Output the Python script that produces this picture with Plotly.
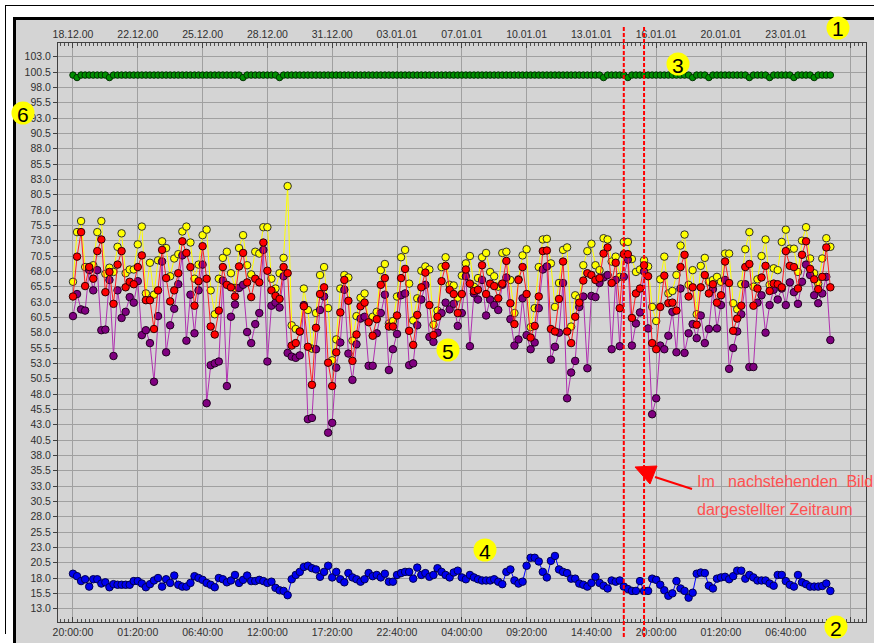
import plotly.graph_objects as go

# ---------------- data ----------------
top_date_labels = ["18.12.00", "22.12.00", "25.12.00", "28.12.00", "31.12.00", "03.01.01",
                   "07.01.01", "10.01.01", "13.01.01", "16.01.01", "20.01.01", "23.01.01"]
bottom_time_labels = ["20:00:00", "01:20:00", "06:40:00", "12:00:00", "17:20:00", "22:40:00",
                      "04:00:00", "09:20:00", "14:40:00", "20:00:00", "01:20:00", "06:40:00"]
samples_per_label = 16
y_tick_values = [13.0, 15.5, 18.0, 20.5, 23.0, 25.5, 28.0, 30.5, 33.0, 35.5, 38.0, 40.5, 43.0,
                 45.5, 48.0, 50.5, 53.0, 55.5, 58.0, 60.5, 63.0, 65.5, 68.0, 70.5, 73.0, 75.5,
                 78.0, 80.5, 83.0, 85.5, 88.0, 90.5, 93.0, 95.5, 98.0, 100.5, 103.0]

yellow_values = [
    66.3, 74.4, 76.2, 68.7, 68.7, 69.0, 74.4, 76.2, 67.6, 68.6,
    67.9, 72.0, 74.2, 67.7, 68.3, 68.3, 72.4, 75.3, 64.4, 69.4,
    64.2, 69.8, 72.9, 71.8, 67.2, 70.1, 70.8, 74.5, 75.3, 72.7,
    66.8, 69.1, 73.9, 74.8, 64.9, 61.0, 66.8, 70.2, 71.2, 67.7,
    65.3, 71.8, 73.9, 69.0, 67.5, 71.2, 70.9, 75.2, 75.2, 66.8,
    65.2, 67.7, 70.2, 81.9, 59.2, 58.6, 58.2, 65.2, 61.7, 55.4,
    61.2, 67.4, 68.7, 62.0, 53.5, 56.9, 65.2, 67.4, 67.0, 56.7,
    60.7, 63.7, 64.4, 60.0, 60.6, 61.4, 68.2, 69.2, 59.5, 59.9,
    63.9, 70.3, 71.5, 66.0, 60.0, 63.6, 68.1, 68.8, 68.3, 59.3,
    61.6, 68.7, 70.3, 65.8, 65.7, 63.7, 67.3, 69.3, 70.5, 65.5,
    66.9, 70.3, 71.0, 67.9, 67.2, 65.5, 71.0, 71.2, 66.6, 61.2,
    66.7, 70.6, 71.6, 58.9, 62.0, 68.7, 73.2, 73.3, 69.3, 62.2,
    66.1, 71.5, 71.9, 59.0, 64.1, 63.6, 69.0, 71.3, 72.5, 69.0,
    68.2, 73.4, 73.2, 69.6, 70.4, 67.1, 72.8, 72.8, 70.0, 67.9,
    68.3, 69.8, 68.8, 62.2, 59.9, 66.7, 70.4, 64.4, 64.8, 67.4,
    72.2, 74.0, 65.8, 68.2, 61.0, 68.9, 70.2, 66.3, 66.6, 67.1,
    66.3, 70.9, 70.9, 62.8, 61.8, 65.9, 71.6, 74.4, 65.5, 66.7,
    70.5, 73.2, 65.8, 68.5, 68.2, 72.8, 74.8, 71.7, 71.7, 67.9,
    73.0, 75.2, 70.1, 67.7, 66.0, 70.1, 73.4, 72.0]

red_values = [
    63.9, 70.4, 74.4, 65.6, 68.7, 66.8, 71.3, 73.2, 64.6, 67.9,
    62.7, 69.1, 71.3, 65.4, 66.3, 65.9, 68.7, 70.6, 63.3, 63.3,
    58.6, 64.9, 71.5, 66.9, 63.1, 64.9, 67.7, 72.9, 71.0, 68.7,
    62.4, 66.4, 72.1, 66.8, 59.0, 57.7, 61.6, 68.7, 65.8, 65.4,
    63.9, 68.8, 71.0, 66.2, 63.8, 66.8, 66.2, 72.7, 68.1, 64.9,
    64.0, 63.5, 68.7, 67.7, 55.9, 56.3, 58.2, 62.3, 55.7, 49.5,
    58.8, 64.3, 65.4, 53.1, 49.3, 54.8, 61.3, 66.6, 63.2, 53.4,
    57.7, 62.3, 62.9, 59.7, 57.5, 60.2, 65.8, 66.9, 59.0, 59.0,
    60.8, 66.9, 68.4, 58.3, 56.0, 60.9, 65.4, 67.8, 62.5, 57.6,
    60.6, 66.4, 68.9, 65.0, 64.3, 61.2, 64.3, 68.3, 66.0, 64.8,
    65.0, 69.0, 64.3, 66.0, 65.6, 63.6, 66.0, 69.7, 62.8, 59.4,
    66.6, 68.7, 64.3, 57.2, 59.1, 63.9, 71.3, 71.4, 58.6, 58.2,
    63.5, 69.6, 58.2, 56.3, 60.6, 62.9, 66.5, 67.7, 67.4, 66.6,
    66.9, 70.9, 71.9, 66.1, 69.4, 62.0, 70.8, 70.8, 60.4, 64.4,
    65.2, 69.0, 67.2, 56.3, 55.3, 62.2, 67.3, 62.8, 62.9, 61.6,
    68.7, 70.7, 63.9, 65.4, 59.3, 65.4, 67.4, 64.4, 65.9, 62.9,
    64.1, 69.6, 66.1, 58.3, 60.3, 62.4, 68.7, 69.2, 62.4, 65.2,
    67.0, 68.9, 64.8, 66.0, 65.9, 65.4, 71.3, 68.9, 68.7, 65.2,
    70.7, 72.9, 68.4, 66.7, 65.1, 67.1, 71.9, 65.4]

purple_values = [
    60.7, 64.3, 61.8, 61.6, 68.2, 64.9, 68.2, 58.4, 58.5, 66.6,
    54.2, 64.9, 60.4, 61.4, 63.8, 62.9, 66.4, 57.6, 58.4, 56.3,
    50.0, 60.7, 69.6, 54.8, 59.2, 61.9, 65.9, 70.6, 56.7, 64.2,
    57.9, 64.9, 69.1, 46.5, 52.7, 53.0, 53.3, 66.5, 49.3, 60.6,
    62.6, 65.3, 65.8, 58.1, 56.3, 59.4, 61.2, 71.5, 53.3, 62.4,
    62.9, 62.1, 67.2, 54.7, 54.1, 53.9, 54.3, 62.5, 43.9, 44.1,
    55.3, 61.7, 63.9, 41.7, 43.3, 52.3, 56.4, 65.0, 54.6, 50.3,
    56.1, 60.3, 60.6, 52.6, 52.6, 57.9, 61.2, 64.2, 51.9, 55.3,
    57.8, 64.1, 64.4, 52.7, 53.0, 59.2, 63.4, 65.8, 57.3, 56.5,
    58.0, 61.2, 62.9, 61.8, 62.7, 59.1, 61.2, 67.2, 55.8, 64.4,
    63.4, 66.6, 60.8, 63.4, 62.5, 61.7, 65.8, 67.0, 60.2, 55.9,
    56.9, 63.6, 57.6, 55.3, 56.4, 62.0, 68.3, 68.8, 53.6, 55.7,
    58.0, 66.1, 47.3, 51.5, 53.4, 62.2, 63.9, 52.2, 64.0, 63.8,
    66.1, 67.0, 67.4, 55.3, 66.6, 55.8, 67.1, 69.9, 55.9, 59.5,
    61.3, 68.0, 58.7, 44.7, 47.3, 55.9, 55.3, 57.5, 61.4, 54.8,
    65.2, 54.7, 57.9, 59.4, 57.1, 60.8, 56.3, 58.6, 65.1, 58.7,
    62.5, 66.6, 52.1, 55.5, 58.2, 61.0, 65.9, 52.4, 52.4, 62.9,
    64.1, 58.0, 62.5, 65.0, 63.4, 65.2, 62.5, 66.2, 64.6, 62.7,
    66.3, 69.1, 67.4, 64.1, 62.8, 64.4, 67.1, 56.8]

green_values = [
    100.0, 99.6, 100.0, 100.0, 100.0, 100.0, 100.0, 100.0, 100.0, 99.6,
    100.0, 100.0, 100.0, 100.0, 100.0, 100.0, 100.0, 100.0, 100.0, 100.0,
    100.0, 100.0, 100.0, 100.0, 100.0, 100.0, 100.0, 100.0, 100.0, 100.0,
    100.0, 100.0, 100.0, 100.0, 100.0, 100.0, 100.0, 100.0, 100.0, 100.0,
    100.0, 100.0, 99.6, 100.0, 100.0, 100.0, 100.0, 100.0, 100.0, 100.0,
    100.0, 99.6, 100.0, 100.0, 100.0, 100.0, 100.0, 100.0, 100.0, 100.0,
    100.0, 100.0, 100.0, 100.0, 100.0, 100.0, 100.0, 100.0, 100.0, 100.0,
    100.0, 100.0, 100.0, 100.0, 100.0, 100.0, 100.0, 100.0, 100.0, 100.0,
    100.0, 100.0, 100.0, 100.0, 100.0, 100.0, 100.0, 100.0, 100.0, 100.0,
    100.0, 100.0, 100.0, 100.0, 100.0, 100.0, 100.0, 100.0, 100.0, 100.0,
    100.0, 100.0, 100.0, 100.0, 100.0, 100.0, 100.0, 100.0, 100.0, 100.0,
    100.0, 100.0, 100.0, 100.0, 100.0, 100.0, 100.0, 100.0, 100.0, 100.0,
    100.0, 100.0, 100.0, 100.0, 100.0, 100.0, 100.0, 100.0, 100.0, 100.0,
    100.0, 99.6, 100.0, 100.0, 100.0, 100.0, 100.0, 99.6, 100.0, 100.0,
    100.0, 100.0, 100.0, 100.0, 100.0, 100.0, 100.0, 100.0, 100.0, 100.0,
    100.0, 100.0, 100.0, 99.6, 100.0, 100.0, 100.0, 99.6, 100.0, 100.0,
    100.0, 100.0, 100.0, 100.0, 100.0, 100.0, 100.0, 99.6, 100.0, 100.0,
    100.0, 100.0, 99.6, 100.0, 100.0, 100.0, 100.0, 100.0, 99.6, 100.0,
    100.0, 100.0, 100.0, 99.6, 100.0, 100.0, 100.0, 100.0]

blue_values = [
    18.7, 18.3, 17.5, 17.8, 16.6, 17.8, 17.8, 17.1, 17.3, 16.5,
    17.0, 16.9, 16.9, 16.9, 16.9, 17.5, 17.5, 17.1, 16.5, 17.0,
    17.6, 18.0, 16.6, 17.8, 17.2, 18.4, 16.9, 16.6, 16.6, 17.2,
    18.3, 18.0, 17.7, 17.2, 16.9, 16.5, 18.0, 17.8, 17.3, 17.6,
    18.5, 17.2, 17.7, 18.4, 17.5, 17.5, 17.7, 17.5, 17.2, 17.4,
    16.4, 16.0, 15.9, 15.2, 17.8, 18.5, 19.0, 19.8, 20.0, 19.6,
    19.4, 18.2, 19.0, 20.0, 18.1, 19.0, 17.8, 17.3, 18.8, 18.1,
    17.8, 17.4, 17.8, 18.8, 18.3, 18.5, 18.1, 18.7, 17.4, 17.4,
    18.5, 18.8, 19.0, 19.0, 17.9, 19.7, 18.5, 18.8, 18.2, 18.5,
    19.6, 19.0, 18.5, 18.1, 18.9, 19.2, 18.1, 17.8, 18.5, 18.1,
    17.8, 17.6, 17.6, 17.6, 17.8, 17.4, 17.0, 19.0, 19.4, 17.6,
    17.1, 17.4, 20.0, 21.3, 21.3, 20.7, 19.0, 18.1, 20.8, 21.6,
    19.4, 19.0, 18.8, 17.9, 17.9, 17.1, 16.9, 16.6, 17.2, 18.2,
    17.2, 16.75, 16.3, 17.6, 17.4, 17.6, 16.6, 16.2, 15.9, 15.9,
    17.5, 15.9, 15.9, 17.9, 17.7, 16.9, 16.0, 15.1, 15.5, 17.5,
    16.3, 15.9, 14.8, 15.6, 18.7, 18.9, 18.8, 16.75, 16.3, 17.9,
    18.1, 18.2, 17.8, 18.3, 19.2, 19.2, 17.9, 18.5, 18.1, 17.6,
    17.6, 17.6, 17.1, 16.75, 18.5, 18.5, 17.5, 16.9, 16.6, 18.5,
    17.3, 17.0, 16.6, 16.6, 16.6, 16.7, 17.1, 15.9]

sample_index = list(range(len(yellow_values)))

# marked period (sample positions of the two red dashed lines)
marked_period = [136, 141]

# ---------------- layout geometry ----------------
W, H = 874, 643
ML, MR, MT, MB = 58, 8, 43, 21
PW, PH = W - ML - MR, H - MT - MB


def px(x):
    return (x - ML) / PW


def py(y):
    return (H - MB - y) / PH


FONT = "Liberation Sans, Arial, sans-serif"
AXIS_COL = "#404040"
GRID_COL = "#a0a0a0"
BG = "#d4d4d4"

fig = go.Figure()

fig.add_trace(go.Scatter(
    x=sample_index, y=green_values, xaxis="x2", mode="lines+markers",
    line=dict(color="#00a000", width=1),
    marker=dict(size=6.5, color="#009000", line=dict(color="#003000", width=1))))
fig.add_trace(go.Scatter(
    x=sample_index, y=blue_values, mode="lines+markers",
    line=dict(color="#0000ff", width=1),
    marker=dict(size=7.5, color="#0000ee", line=dict(color="#000050", width=1))))
fig.add_trace(go.Scatter(
    x=sample_index, y=yellow_values, mode="lines+markers",
    line=dict(color="#ffff00", width=1),
    marker=dict(size=7.5, color="#ffff00", line=dict(color="#303030", width=1))))
fig.add_trace(go.Scatter(
    x=sample_index, y=purple_values, mode="lines+markers",
    line=dict(color="#b030b0", width=1),
    marker=dict(size=7.5, color="#800080", line=dict(color="#200020", width=1))))
fig.add_trace(go.Scatter(
    x=sample_index, y=red_values, mode="lines+markers",
    line=dict(color="#ff2020", width=1),
    marker=dict(size=7.5, color="#ff0000", line=dict(color="#300000", width=1))))

n_labels = len(top_date_labels)
tick_pos = [samples_per_label * k for k in range(n_labels + 1)]
x_range = [-3.7, 195.8]

common_x = dict(
    range=x_range, tickmode="array", tickvals=tick_pos,
    showgrid=True, gridcolor=GRID_COL, gridwidth=1,
    ticks="inside", ticklen=5, tickcolor=AXIS_COL,
    showline=True, linecolor=AXIS_COL, linewidth=1,
    zeroline=False, automargin=False,
    tickfont=dict(family=FONT, size=10.5, color="#303030"),
    minor=dict(tickmode="linear", tick0=0, dtick=1, ticks="inside",
               ticklen=3, tickcolor="#505050", showgrid=False),
)

fig.update_layout(
    width=W, height=H,
    margin=dict(l=ML, r=MR, t=MT, b=MB, pad=0, autoexpand=False),
    paper_bgcolor=BG, plot_bgcolor=BG,
    showlegend=False, hovermode=False,
    xaxis=dict(common_x, ticktext=bottom_time_labels + [""], mirror=True, side="bottom"),
    xaxis2=dict(common_x, ticktext=top_date_labels + [""], overlaying="x", side="top",
                anchor="y"),
    yaxis=dict(
        range=[10.83, 105.23], tickmode="array", tickvals=y_tick_values,
        ticktext=[f"{v:.1f}" for v in y_tick_values],
        showgrid=True, gridcolor=GRID_COL, gridwidth=1,
        ticks="outside", ticklen=4, tickcolor=AXIS_COL,
        showline=True, linecolor=AXIS_COL, linewidth=1, mirror=True,
        zeroline=False, automargin=False,
        tickfont=dict(family=FONT, size=10.5, color="#303030")),
)

shapes = [
    # white outer frame
    dict(type="rect", xref="paper", yref="paper", x0=px(0), x1=px(13), y0=py(H), y1=py(0),
         fillcolor="white", line=dict(width=0), layer="below"),
    dict(type="rect", xref="paper", yref="paper", x0=px(0), x1=px(W), y0=py(17), y1=py(0),
         fillcolor="white", line=dict(width=0), layer="below"),
    # thick black borders
    dict(type="rect", xref="paper", yref="paper", x0=px(13), x1=px(W), y0=py(20), y1=py(17),
         fillcolor="black", line=dict(width=0), layer="below"),
    dict(type="rect", xref="paper", yref="paper", x0=px(13), x1=px(16), y0=py(H), y1=py(17),
         fillcolor="black", line=dict(width=0), layer="below"),
    # thin outer lines
    dict(type="line", xref="paper", yref="paper", x0=px(5), x1=px(W), y0=py(5.5), y1=py(5.5),
         line=dict(color="black", width=1), layer="below"),
    dict(type="line", xref="paper", yref="paper", x0=px(5.5), x1=px(5.5), y0=py(5), y1=py(634),
         line=dict(color="black", width=1), layer="below"),
]

# red dashed lines marking the period
for xv in marked_period:
    shapes.append(dict(type="line", xref="x", yref="paper", x0=xv, x1=xv,
                       y0=py(637), y1=py(27),
                       line=dict(color="#ff0000", width=2, dash="4px,2px"), layer="above"))

# red pointer
shapes.append(dict(type="path", xref="paper", yref="paper",
                   path=f"M {px(635)},{py(467)} L {px(657)},{py(466)} L {px(650)},{py(484)} Z",
                   fillcolor="#ff0000", line=dict(color="#ff0000", width=1), layer="above"))
shapes.append(dict(type="line", xref="paper", yref="paper",
                   x0=px(655), y0=py(477), x1=px(692), y1=py(489),
                   line=dict(color="#ff0000", width=2), layer="above"))

# numbered yellow markers
numbered = [("1", 838, 28), ("2", 836, 627), ("3", 678, 64), ("4", 485, 550),
            ("5", 448, 350), ("6", 23, 113)]
annotations = []
R = 11.5
for label, cx, cy in numbered:
    shapes.append(dict(type="circle", xref="paper", yref="paper",
                       x0=px(cx - R), x1=px(cx + R), y0=py(cy + R), y1=py(cy - R),
                       fillcolor="#ffff00", line=dict(width=0), layer="above"))
    annotations.append(dict(x=px(cx), y=py(cy + 1), xref="paper", yref="paper",
                            text=label, showarrow=False, xanchor="center", yanchor="middle",
                            font=dict(family=FONT, size=21, color="black")))

sp = "\u00a0"
annotations.append(dict(x=px(695), y=py(481.5), xref="paper", yref="paper",
                        text="Im" + sp * 3 + "nachstehenden" + sp * 2 + "Bild",
                        showarrow=False, xanchor="left", yanchor="middle",
                        font=dict(family=FONT, size=16, color="#ff5050")))
annotations.append(dict(x=px(695), y=py(509), xref="paper", yref="paper",
                        text="dargestellter Zeitraum",
                        showarrow=False, xanchor="left", yanchor="middle",
                        font=dict(family=FONT, size=16, color="#ff5050")))

fig.update_layout(shapes=shapes, annotations=annotations)

fig.write_html(
    "out.html",
    config={"displayModeBar": False, "staticPlot": True},
    post_script="document.body.style.margin='0px';document.body.style.overflow='hidden';",
)
